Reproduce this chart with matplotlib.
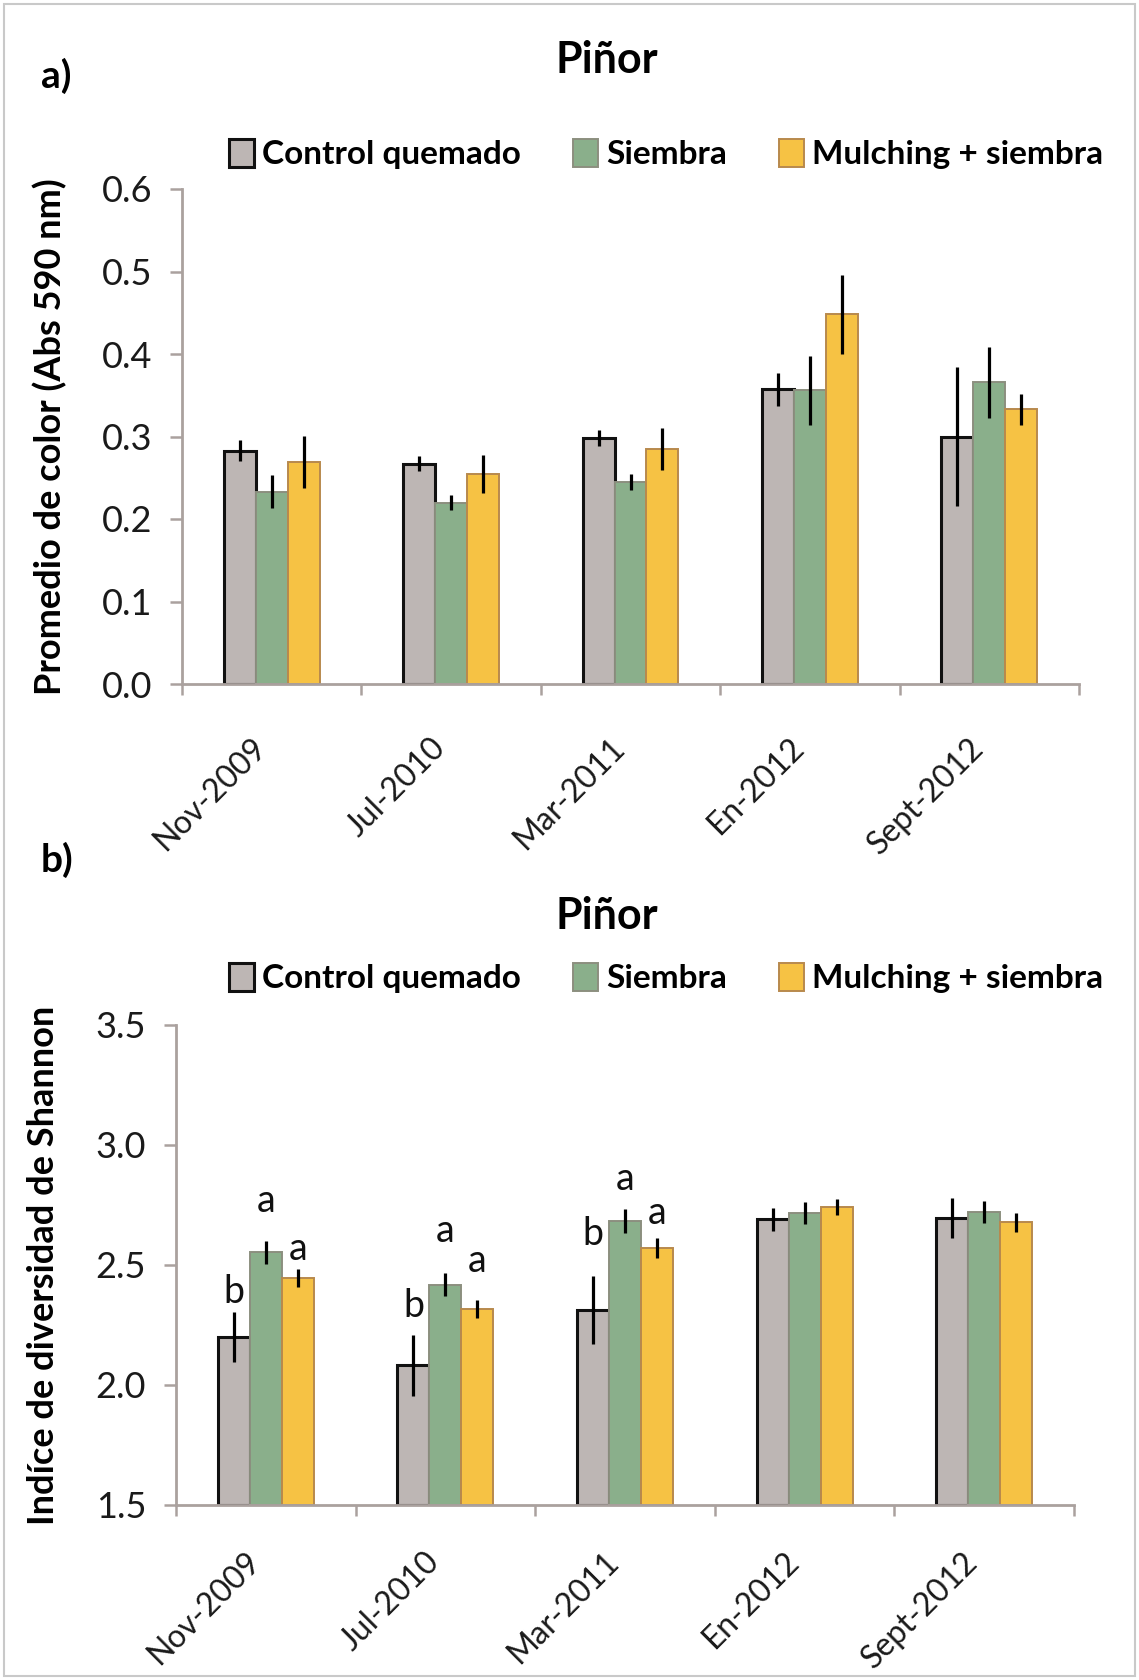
import matplotlib
matplotlib.use("Agg")
import matplotlib.pyplot as plt
import matplotlib.transforms as mtransforms
import numpy as np
from matplotlib.patches import Patch, Rectangle

plt.rcParams["font.family"] = ["Lato", "DejaVu Sans"]

# ---- data ----
fechas = ["Nov-2009", "Jul-2010", "Mar-2011", "En-2012", "Sept-2012"]
tratamientos = ["Control quemado", "Siembra", "Mulching + siembra"]

# a) Promedio de color (Abs 590 nm)
color_control = [0.283, 0.267, 0.298, 0.357, 0.300]
color_control_err = [0.013, 0.009, 0.010, 0.020, 0.084]
color_siembra = [0.233, 0.220, 0.245, 0.356, 0.366]
color_siembra_err = [0.020, 0.009, 0.010, 0.042, 0.043]
color_mulch = [0.269, 0.255, 0.285, 0.448, 0.333]
color_mulch_err = [0.032, 0.023, 0.025, 0.048, 0.019]

# b) Indice de diversidad de Shannon
shan_control = [2.200, 2.082, 2.313, 2.690, 2.696]
shan_control_err = [0.105, 0.128, 0.142, 0.047, 0.082]
shan_siembra = [2.554, 2.418, 2.683, 2.717, 2.722]
shan_siembra_err = [0.048, 0.048, 0.050, 0.045, 0.045]
shan_mulch = [2.446, 2.317, 2.572, 2.740, 2.678]
shan_mulch_err = [0.037, 0.038, 0.042, 0.033, 0.040]

# significance letters (panel b), one per bar
letras_control = ["b", "b", "b"]
letras_siembra = ["a", "a", "a"]
letras_mulch = ["a", "a", "a"]
# label heights in data units
letras_y_control = [2.386, 2.330, 2.628]
letras_y_siembra = [2.765, 2.640, 2.857]
letras_y_mulch = [2.565, 2.517, 2.718]

COLORS = ["#bdb6b4", "#8aaf8b", "#f6c244"]
EDGES = ["#111111", "#8c8f7f", "#b8894d"]
EDGE_W = [2.2, 1.4, 1.4]
SPINE = "#aaa19e"
BW = 0.178

W, H = 1139, 1680
fig = plt.figure(figsize=(W / 100, H / 100), dpi=100)


def px(x, y, w=0, h=0):
    return [x / W, 1 - (y + h) / H, w / W, h / H]


def draw_panel(ax, series, errs, ylim, yticks, ylabel, xpad):
    x = np.arange(len(fechas))
    for k, (vals, err) in enumerate(zip(series, errs)):
        xs = x + (k - 1) * BW
        base = ylim[0]
        ax.bar(xs, np.array(vals) - base, BW, bottom=base, color=COLORS[k],
               edgecolor=EDGES[k], linewidth=EDGE_W[k], zorder=2 + k * 0.1)
        ax.errorbar(xs, vals, yerr=err, fmt="none", ecolor="black",
                    elinewidth=2.3, capsize=0, zorder=5)
    ax.set_xlim(-0.5, len(fechas) - 0.5)
    ax.set_ylim(*ylim)
    ax.set_yticks(yticks)
    ax.set_yticklabels(["{:.1f}".format(v) for v in yticks])
    ax.set_xticks(x)
    ax.set_xticklabels(fechas, rotation=45, ha="right")
    shift = mtransforms.ScaledTranslation(12 / 100, 0, fig.dpi_scale_trans)
    for lab in ax.get_xticklabels():
        lab.set_transform(lab.get_transform() + shift)
    ax.set_xticks(np.arange(-0.5, len(fechas)), minor=True)
    ax.tick_params(axis="x", which="major", length=0, pad=xpad,
                   labelsize=23, labelcolor="#1a1a1a")
    ax.tick_params(axis="x", which="minor", length=8, width=1.8, color=SPINE)
    ax.tick_params(axis="y", length=8.5, width=1.8, color=SPINE, pad=13,
                   labelsize=26, labelcolor="#1a1a1a")
    for s in ("top", "right"):
        ax.spines[s].set_visible(False)
    for s in ("left", "bottom"):
        ax.spines[s].set_color(SPINE)
        ax.spines[s].set_linewidth(2)
    ax.set_ylabel(ylabel, fontsize=26, fontweight="bold", va="center")
    ax.yaxis.set_label_coords(-0.147, 0.5)


handles = [Patch(facecolor=COLORS[k], edgecolor=EDGES[k], linewidth=EDGE_W[k],
                 label=tratamientos[k]) for k in range(3)]

# ---- panel a ----
ax1 = fig.add_axes(px(182, 189, 897, 495))
draw_panel(ax1,
           [color_control, color_siembra, color_mulch],
           [color_control_err, color_siembra_err, color_mulch_err],
           (0, 0.6), np.arange(0, 0.61, 0.1),
           "Promedio de color (Abs 590 nm)", 35)

# ---- panel b ----
ax2 = fig.add_axes(px(176, 1025, 898, 480))
draw_panel(ax2,
           [shan_control, shan_siembra, shan_mulch],
           [shan_control_err, shan_siembra_err, shan_mulch_err],
           (1.5, 3.5), np.arange(1.5, 3.51, 0.5),
           "Indíce de diversidad de Shannon", 30)

for k, (letras, ys) in enumerate([(letras_control, letras_y_control),
                                  (letras_siembra, letras_y_siembra),
                                  (letras_mulch, letras_y_mulch)]):
    for i, (t, y) in enumerate(zip(letras, ys)):
        ax2.text(i + (k - 1) * BW, y, t, ha="center", va="center",
                 fontsize=27, color="#111111", zorder=6)

# ---- titles, panel letters, legends ----
for ty, ly, lab, labpos in [(60, 154, "a)", (56, 76)), (916, 978, "b)", (57, 860))]:
    fig.text(607 / W, 1 - ty / H, "Piñor", ha="center", va="center",
             fontsize=31, fontweight="bold")
    fig.text(labpos[0] / W, 1 - labpos[1] / H, lab, ha="center", va="center",
             fontsize=28, fontweight="bold")
    fig.legend(handles=handles, loc="center", bbox_to_anchor=(666 / W, 1 - ly / H),
               ncol=3, frameon=False, prop={"weight": "bold", "size": 24},
               handlelength=0.75, handleheight=0.95, handletextpad=0.25,
               columnspacing=1.55, borderaxespad=0)

# thin frame around the whole figure
fig.patches.append(Rectangle((4 / W, 4 / H), 1 - 8 / W, 1 - 8 / H,
                             transform=fig.transFigure, fill=False,
                             edgecolor="#c9c9c9", linewidth=1.5))

fig.savefig("out.png", dpi=100)
